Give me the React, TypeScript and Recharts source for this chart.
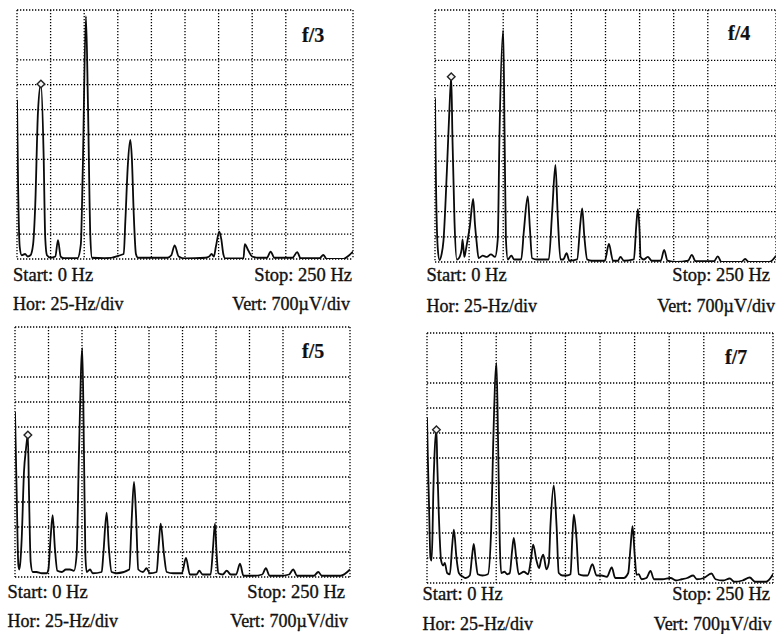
import React from 'react'
import { LineChart, Line, XAxis, YAxis, CartesianGrid, ReferenceDot } from 'recharts'

const FONT = '"Liberation Serif", "Times New Roman", Times, serif'
const UV_PER_DIV = 700

const hzTicks = [0, 25, 50, 75, 100, 125, 150, 175, 200, 225, 250]
const uvTicks = [0, 700, 1400, 2100, 2800, 3500, 4200, 4900, 5600, 6300, 7000]

const captions = ['Start: 0 Hz', 'Stop: 250 Hz', 'Hor: 25-Hz/div', 'Vert: 700\u00b5V/div']
const panelLabels = ['f/3', 'f/4', 'f/5', 'f/7']

// amplitudes in divisions (700 uV/div), frequency in Hz
const f3Hz = [0, 0.8, 2, 3.5, 6, 8, 10, 12, 13.6, 15.6, 17.8, 19.8, 21, 22.3, 25, 28.5, 30.5, 32.5, 35, 45, 47.5, 48.9, 51.3, 52.8, 54.6, 55.8, 65, 79.4, 80.6, 82.5, 84.3, 85.5, 86.8, 88.5, 90, 100, 112, 114.8, 117.3, 120.3, 125, 140, 143, 144.8, 146.5, 148, 150.5, 152, 153.5, 155, 168.5, 169.5, 172, 175, 180, 186, 188.7, 191.5, 205, 208.5, 211, 225, 227.9, 230.5, 243, 246, 250]
const f3Amp = [6.4, 3.0, 0.5, 0.15, 0.2, 0.1, 0.15, 0.6, 2.2, 5.9, 7.03, 4.2, 0.85, 0.15, 0.05, 0.1, 0.76, 0.1, 0.03, 0.03, 0.6, 3.5, 9.75, 6.2, 0.85, 0.05, 0.03, 0.2, 1.5, 3.8, 4.78, 4.0, 1.9, 0.2, 0.05, 0.05, 0.05, 0.15, 0.55, 0.1, 0.02, 0.05, 0.1, 0.2, 0.1, 0.5, 1.1, 0.8, 0.2, 0.02, 0.02, 0.6, 0.35, 0.1, 0.05, 0.05, 0.3, 0.05, 0.05, 0.28, 0.03, 0.03, 0.16, 0, 0, 0.1, 0.3]

const f4Hz = [0, 0.6, 2, 3.3, 4.8, 6.2, 8.7, 10.4, 11.9, 12.8, 14.3, 16, 17.5, 19.5, 20.2, 21.5, 23, 25.5, 28, 29.3, 30.5, 32, 35, 38, 41, 44, 46, 47.3, 50, 51, 52, 53.4, 56, 58, 63.2, 65.1, 68, 69.5, 71.2, 75, 80, 83.4, 85.9, 88.3, 90, 92, 94, 96.5, 98.5, 104.2, 106.5, 107.9, 109.5, 111.6, 115, 124.5, 127.5, 130.5, 134, 136, 138.5, 145.8, 147.5, 148.7, 150, 150.7, 153, 156, 159, 165.5, 168, 170.5, 177, 185.5, 188.3, 191, 204.5, 207.3, 210, 224.5, 227.4, 230, 245, 250]
const f4Amp = [6.5, 3.6, 0.56, 0.08, 0.3, 0.84, 3.6, 5.83, 7.35, 4.9, 1.6, 0.1, 0.15, 0.5, 0.9, 0.2, 0.6, 1.4, 2.5, 1.5, 0.8, 0.15, 0.25, 0.2, 0.3, 0.2, 0.9, 5.1, 9.2, 5.1, 0.9, 0.1, 0.25, 0.1, 0.1, 1.2, 2.6, 1.4, 0.15, 0.1, 0.1, 0.1, 2.0, 3.85, 1.8, 0.1, 0.1, 0.35, 0.05, 0.1, 1.5, 2.13, 1.0, 0.1, 0.05, 0.05, 0.72, 0.05, 0.05, 0.2, 0.05, 0.1, 1.4, 2.1, 1.2, 0.2, 0.1, 0.2, 0.05, 0.05, 0.48, 0.05, 0, 0.05, 0.28, 0.03, 0.03, 0.22, 0, 0, 0.12, 0, 0, 0.25]

const f5Hz = [0, 1.2, 2.5, 3.2, 4, 5, 6.7, 8.2, 9.6, 10.4, 11.7, 13.2, 16, 20, 23.6, 24.9, 26.6, 28.1, 29.8, 31.6, 35, 38, 41, 44, 46, 47.7, 50.2, 51.5, 52.5, 53.5, 56, 58, 64.7, 65.9, 68.4, 70, 72.1, 76, 85.3, 87, 88.8, 90.3, 92, 95.5, 98.2, 100.5, 105.7, 107.3, 108.7, 111.2, 113.2, 118, 124.5, 127.6, 130.5, 135.5, 137.5, 140, 146, 147.8, 149.2, 150.5, 151.7, 155, 158, 161, 165, 167.9, 170.5, 178, 184.5, 187.2, 190, 198, 204.5, 207.6, 210.5, 223, 226.3, 229, 243, 250]
const f5Amp = [6.6, 3.5, 0.47, 0.3, 0.6, 1.53, 4.2, 5.13, 5.68, 3.5, 0.6, 0.2, 0.2, 0.15, 0.15, 0.3, 1.6, 2.47, 1.13, 0.25, 0.2, 0.3, 0.3, 0.25, 0.9, 4.87, 9.15, 4.87, 0.9, 0.2, 0.3, 0.15, 0.2, 0.9, 2.57, 1.2, 0.2, 0.15, 0.3, 2.2, 3.8, 2.5, 0.3, 0.2, 0.35, 0.15, 0.2, 1.3, 2.13, 0.9, 0.2, 0.15, 0.15, 0.76, 0.1, 0.1, 0.25, 0.1, 0.1, 1.2, 2.13, 0.9, 0.15, 0.1, 0.25, 0.1, 0.1, 0.53, 0.05, 0.05, 0.1, 0.35, 0.05, 0.05, 0.1, 0.3, 0.05, 0.05, 0.2, 0.05, 0.05, 0.3]

const f7Hz = [0, 0.6, 1.3, 2.5, 3.3, 4, 4.5, 5.4, 6.8, 7.4, 8.5, 10.2, 11.7, 12.8, 14.6, 16.5, 18.2, 19.4, 21.3, 23, 26, 28, 30.9, 32.6, 33.8, 35.2, 36.7, 40, 44, 46.4, 47.8, 50.2, 51.4, 52.6, 53.6, 56, 58, 59.8, 61.5, 62.7, 64.5, 66.3, 70, 73, 75, 76.7, 79.1, 81, 82.5, 84, 86.3, 88, 89.2, 91.6, 93.6, 95.2, 98, 101, 103.7, 105, 106.1, 108, 109.7, 113, 116, 119.5, 122.5, 126, 130, 133.5, 136, 142, 145.4, 147, 148.5, 150.1, 151.4, 153, 155, 158.5, 161.5, 164, 170, 176, 180, 184, 188, 192.3, 195, 200, 205.5, 208.5, 214, 218.8, 222, 228, 233.2, 237, 245, 250]
const f7Amp = [6.63, 5.0, 3.5, 1.0, 0.9, 2.0, 3.5, 5.1, 6.13, 4.8, 2.8, 0.9, 0.7, 0.8, 0.4, 0.35, 1.5, 2.13, 1.0, 0.4, 0.25, 0.2, 0.3, 1.1, 1.56, 0.9, 0.35, 0.3, 0.35, 2.2, 5.5, 8.8, 5.5, 1.6, 0.4, 0.45, 0.35, 0.4, 1.3, 1.8, 1.0, 0.35, 0.45, 0.35, 0.9, 1.53, 0.9, 0.6, 0.95, 1.13, 0.55, 0.8, 2.3, 3.9, 2.3, 0.4, 0.3, 0.3, 0.35, 1.8, 2.73, 1.8, 0.35, 0.3, 0.3, 0.75, 0.3, 0.3, 0.25, 0.62, 0.2, 0.2, 0.4, 1.4, 2.27, 1.1, 0.33, 0.35, 0.15, 0.2, 0.48, 0.15, 0.15, 0.2, 0.1, 0.15, 0.2, 0.3, 0.15, 0.2, 0.38, 0.15, 0.1, 0.18, 0.05, 0.1, 0.22, 0.05, 0.05, 0.35]

// marker frequency for each panel (sits on the first peak)
const markerHz = [17.8, 11.9, 9.6, 6.8]

const series = [
  { hz: f3Hz, amp: f3Amp },
  { hz: f4Hz, amp: f4Amp },
  { hz: f5Hz, amp: f5Amp },
  { hz: f7Hz, amp: f7Amp },
]

// page layout of each panel (grid box + caption positions)
const layouts = [
  { left: 17, top: 10, w: 336, h: 249, capLeft: 13, row1: 281, row2: 310, stopRight: 352, vertRight: 350, labX: 302, labY: 42 },
  { left: 434.5, top: 10, w: 341, h: 252, capLeft: 426.5, row1: 281, row2: 311.5, stopRight: 770, vertRight: 775, labX: 728, labY: 40 },
  { left: 15, top: 327, w: 335, h: 250, capLeft: 7.5, row1: 597.5, row2: 626.5, stopRight: 345, vertRight: 348, labX: 302, labY: 358 },
  { left: 426.5, top: 333, w: 346, h: 250, capLeft: 422.5, row1: 600, row2: 630, stopRight: 770, vertRight: 771.5, labX: 725, labY: 364 },
]

const M = 3

const Diamond = (p: any) => {
  const { cx, cy } = p
  if (cx == null || cy == null) return null
  const s = 3.8
  return (
    <path
      d={`M${cx},${cy - s}L${cx + s},${cy}L${cx},${cy + s}L${cx - s},${cy}Z`}
      fill="#f4f4f4"
      stroke="#222"
      strokeWidth={1.4}
    />
  )
}

function Panel({ idx }: { idx: number }) {
  const L = layouts[idx]
  const { hz, amp } = series[idx]
  const data = hz.map((f, i) => ({ hz: f, uv: amp[i] * UV_PER_DIV }))
  const mi = hz.indexOf(markerHz[idx])
  const markerUv = amp[mi] * UV_PER_DIV

  return (
    <div style={{ position: 'absolute', left: L.left - M, top: L.top - M }}>
      <LineChart width={L.w + 2 * M} height={L.h + 2 * M} data={data} margin={{ top: M, right: M, bottom: M, left: M }}>
        <CartesianGrid stroke="#000" strokeWidth={1.3} strokeDasharray="1.3 1.7" />
        <XAxis type="number" dataKey="hz" domain={[0, 250]} ticks={hzTicks} hide allowDataOverflow />
        <YAxis type="number" domain={[0, 7000]} ticks={uvTicks} hide allowDataOverflow />
        <Line
          type="monotoneX"
          dataKey="uv"
          stroke="#0a0a0a"
          strokeWidth={1.8}
          dot={false}
          isAnimationActive={false}
        />
        <ReferenceDot x={markerHz[idx]} y={markerUv} r={4} shape={Diamond} />
      </LineChart>
    </div>
  )
}

export default function App() {
  return (
    <div style={{ position: 'absolute', left: 0, top: 0, width: 776, height: 634, background: '#fff', overflow: 'hidden' }}>
      {layouts.map((_, i) => (
        <Panel key={i} idx={i} />
      ))}
      <svg width={776} height={634} style={{ position: 'absolute', left: 0, top: 0, pointerEvents: 'none' }}>
        {layouts.map((L, i) => (
          <g key={i} fontFamily={FONT} fill="#111" stroke="#111" strokeWidth={0.35}>
            <text x={L.capLeft} y={L.row1} fontSize={18.5}>{captions[0]}</text>
            <text x={L.stopRight} y={L.row1} fontSize={18.5} textAnchor="end">{captions[1]}</text>
            <text x={L.capLeft} y={L.row2} fontSize={18}>{captions[2]}</text>
            <text x={L.vertRight} y={L.row2} fontSize={18} textAnchor="end">{captions[3]}</text>
            <text x={L.labX} y={L.labY} fontSize={20} fontWeight="bold" strokeWidth={0.2}>{panelLabels[i]}</text>
          </g>
        ))}
      </svg>
    </div>
  )
}
